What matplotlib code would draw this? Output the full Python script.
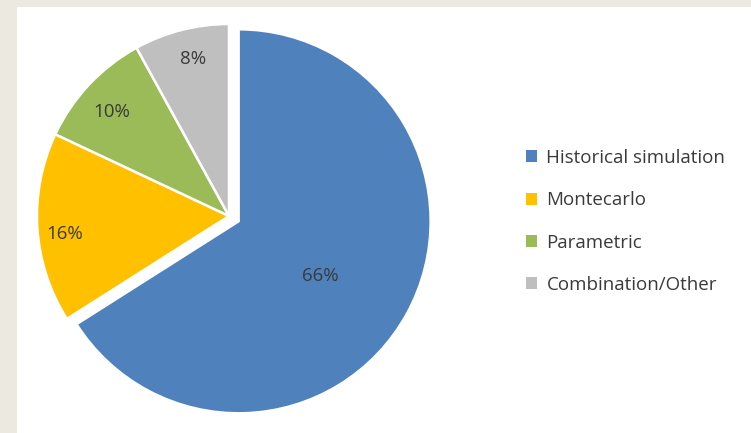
import numpy as np
import matplotlib.pyplot as plt
from matplotlib.patches import Rectangle

labels = ["Historical simulation", "Montecarlo", "Parametric", "Combination/Other"]
shares = [66, 16, 10, 8]
colors = ["#4F81BD", "#FFC000", "#9BBB59", "#BFBFBF"]
# where each percentage sits: fraction of radius, and turn off the slice middle (deg)
label_dist = [0.51, 0.86, 0.815, 0.84]
label_turn = [-5.2, 2.7, 1.6, -1.6]

W, H = 751, 433
fig = plt.figure(figsize=(W / 100, H / 100), dpi=100)
fig.patch.set_facecolor("#ECE9E1")
ax = fig.add_axes([0, 0, 1, 1])

# white slide panel
ax.add_patch(Rectangle((17, 0), W - 17, H - 7, facecolor="white", edgecolor="none", zorder=0))

radius = 192
center = (229, H - 216)
# explode is in data units here (pixels)
wedges, _ = ax.pie(shares, colors=colors, startangle=90, counterclock=False,
                   radius=radius, center=center, explode=[11, 0, 0, 0],
                   wedgeprops=dict(edgecolor="white", linewidth=1.8),
                   frame=True)
ax.set_xlim(0, W)
ax.set_ylim(0, H)
ax.set_aspect("equal")
ax.axis("off")

for w, val, d, turn in zip(wedges, shares, label_dist, label_turn):
    ang = np.deg2rad((w.theta1 + w.theta2) / 2 + turn)
    cx, cy = w.center
    ax.text(cx + d * radius * np.cos(ang), cy + d * radius * np.sin(ang), f"{val}%",
            ha="center", va="center", fontsize=13.5, color="#3A3A3A", family="Open Sans")

leg = fig.legend(wedges, labels, loc="upper left", bbox_to_anchor=(509 / W, 1 - 132 / H),
                 frameon=False, handlelength=0.6, handleheight=0.6, handletextpad=0.5,
                 labelspacing=1.3, prop=dict(family="Open Sans", size=13.5))
for t in leg.get_texts():
    t.set_color("#3A3A3A")
for h in leg.legend_handles:
    h.set_edgecolor("none")

fig.savefig("out.png", dpi=100, facecolor=fig.get_facecolor())
